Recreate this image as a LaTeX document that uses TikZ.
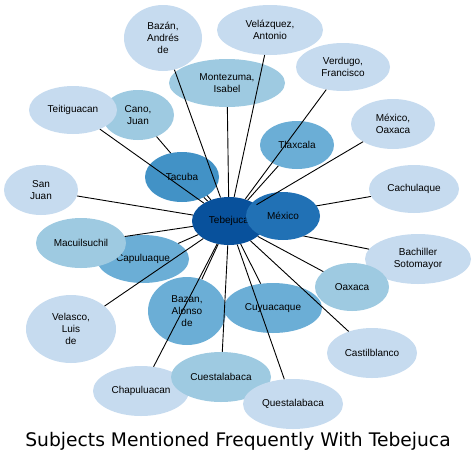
\documentclass[tikz,border=0pt]{standalone}
\usepackage{fontspec}
\setmainfont{Liberation Sans}
\newfontfamily\titlefont{DejaVu Sans}
\usetikzlibrary{shapes.geometric,positioning}

\definecolor{blueA}{HTML}{08519C}
\definecolor{blueB}{HTML}{2171B5}
\definecolor{blueC}{HTML}{4292C6}
\definecolor{blueD}{HTML}{6BAED6}
\definecolor{blueE}{HTML}{9ECAE1}
\definecolor{blueF}{HTML}{C6DBEF}

\tikzset{
  bubble/.style 2 args={ellipse, inner sep=0pt, align=center,
    minimum width=#1, minimum height=#2,
    font=\fontsize{10}{12}\selectfont},
  link/.style={line width=0.9pt, black}
}

\begin{document}
\begin{tikzpicture}[x=1pt,y=-1pt]
    \useasboundingbox (0,0) rectangle (476,464);

    % Centre subject
    \node[bubble={74pt}{48pt}, fill=blueA] (teb) at (229,221) {Tebejuca};

    % Subjects round it
    \node[bubble={78pt}{66pt}, fill=blueF] (bazAnd) at (163,38) {Bazán,\\Andrés\\de};
    \node[bubble={106pt}{50pt}, fill=blueF] (velAnt) at (270,30) {Velázquez,\\Antonio};
    \node[bubble={94pt}{48pt}, fill=blueF] (verFra) at (343,67) {Verdugo,\\Francisco};
    \node[bubble={116pt}{48pt}, fill=blueE] (mon) at (227,83) {Montezuma,\\Isabel};
    \node[bubble={84pt}{50pt}, fill=blueF] (mexOax) at (393,124) {México,\\Oaxaca};
    \node[bubble={74pt}{48pt}, fill=blueD] (tla) at (297,145) {Tlaxcala};
    \node[bubble={90pt}{48pt}, fill=blueF] (cach) at (414,189) {Cachulaque};
    \node[bubble={72pt}{50pt}, fill=blueE] (cano) at (138,115) {Cano,\\Juan};
    \node[bubble={88pt}{48pt}, fill=blueF] (teit) at (73,110) {Teitiguacan};
    \node[bubble={74pt}{50pt}, fill=blueF] (sanJ) at (41,190) {San\\Juan};
    \node[bubble={92pt}{48pt}, fill=blueD] (cap) at (143,259) {Capuluaque};
    \node[bubble={90pt}{50pt}, fill=blueE] (mac) at (81,243) {Macuilsuchil};
    \node[bubble={90pt}{68pt}, fill=blueF] (velLuis) at (71,329) {Velasco,\\Luis\\de};
    \node[bubble={78pt}{68pt}, fill=blueD] (bazAlo) at (187,311) {Bazan,\\Alonso\\de};
    \node[bubble={98pt}{50pt}, fill=blueD] (cuy) at (273,308) {Cuyuacaque};
    \node[bubble={96pt}{50pt}, fill=blueF] (chap) at (141,391) {Chapuluacan};
    \node[bubble={100pt}{50pt}, fill=blueE] (cuest) at (221,377) {Cuestalabaca};
    \node[bubble={100pt}{50pt}, fill=blueF] (quest) at (293,404) {Questalabaca};
    \node[bubble={90pt}{50pt}, fill=blueF] (cast) at (372,353) {Castilblanco};
    \node[bubble={106pt}{50pt}, fill=blueF] (bach) at (418,259) {Bachiller\\Sotomayor};
    \node[bubble={74pt}{48pt}, fill=blueE] (oax) at (352,287) {Oaxaca};

    % Cano link runs under Tacuba
    \draw[link] (teb) -- (cano);
    \node[bubble={74pt}{50pt}, fill=blueC] (tac) at (182,177) {Tacuba};

    % Links from Tebejuca
    \foreach \n in {bazAnd,velAnt,verFra,mon,tla,cach,teit,sanJ,tac,
                    cap,mac,velLuis,bazAlo,cuy,chap,cuest,quest,cast,bach,oax}
        \draw[link] (teb) -- (\n);

    % Mexico sits over Tebejuca, its Oaxaca link on top
    \node[bubble={74pt}{48pt}, fill=blueB] (mex) at (283,216) {México};
    \draw[link] (teb) -- (mexOax);

    \node[font=\titlefont\fontsize{18.7}{22}\selectfont] (title) at (238,441)
        {Subjects Mentioned Frequently With Tebejuca};
\end{tikzpicture}
\end{document}
